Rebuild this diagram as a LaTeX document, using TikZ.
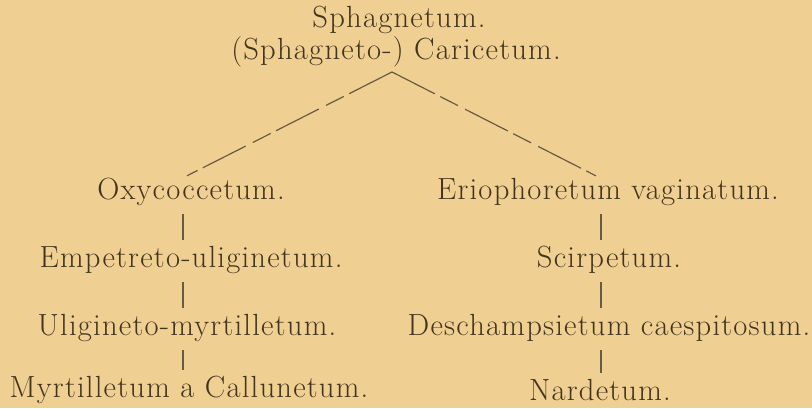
\documentclass[tikz,border=0pt]{standalone}
\usepackage{fontspec}
\setmainfont{Latin Modern Roman}[LetterSpace=4]
\usepackage{tikz}
\usetikzlibrary{positioning,calc}
\usepackage{xcolor}
\definecolor{paper}{RGB}{240,208,146}
\definecolor{ink}{RGB}{66,52,30}
\definecolor{rule}{RGB}{105,90,66}
\tikzset{
  assoc/.style={text=ink,inner sep=1pt,font=\fontsize{15.3}{17}\selectfont},
  branch/.style={draw=rule,line width=.6pt,dash pattern=on 24pt off 3pt on 10pt off 4pt},
  succ/.style={draw=rule,line width=.6pt,shorten >=2pt,shorten <=3pt},
}
\begin{document}
\begin{tikzpicture}[x=0.5pt,y=-0.5pt]
  \fill[paper] (0,0) rectangle (812,408);
  \useasboundingbox (0,0) rectangle (812,408);
  % head of the series
  \node[assoc] (sphag) at (399,20) {Sphagnetum.};
  \node[assoc] (caric) at (396,52) {(Sphagneto-) Caricetum.};
  \coordinate (apex) at (392,72);
  % left series
  \node[assoc] (oxy)   at (191,192) {Oxycoccetum.};
  \node[assoc] (empet) at (191,260) {Empetreto-uliginetum.};
  \node[assoc] (ulig)  at (187,328) {Uligineto-myrtilletum.};
  \node[assoc] (myrt)  at (189,390) {Myrtilletum a Callunetum.};
  % right series
  \node[assoc] (erio)  at (608,192) {Eriophoretum vaginatum.};
  \node[assoc] (scirp) at (609,260) {Scirpetum.};
  \node[assoc] (desch) at (609,328) {Deschampsietum caespitosum.};
  \node[assoc] (nard)  at (600,390) {Nardetum.};
  \coordinate (lbar) at (183,0);
  \coordinate (rbar) at (601,0);
  % the two branches
  \draw[branch] (apex) -- ($(oxy.north)+(-4,0)$);
  \draw[branch] (apex) -- ($(erio.north)+(-12,0)$);
  % the successions
  \draw[succ] (oxy.south -| lbar) -- (empet.north -| lbar);
  \draw[succ] (empet.south -| lbar) -- (ulig.north -| lbar);
  \draw[succ] (ulig.south -| lbar) -- (myrt.north -| lbar);
  \draw[succ] (erio.south -| rbar) -- (scirp.north -| rbar);
  \draw[succ] (scirp.south -| rbar) -- (desch.north -| rbar);
  \draw[succ] (desch.south -| rbar) -- (nard.north -| rbar);
\end{tikzpicture}
\end{document}
